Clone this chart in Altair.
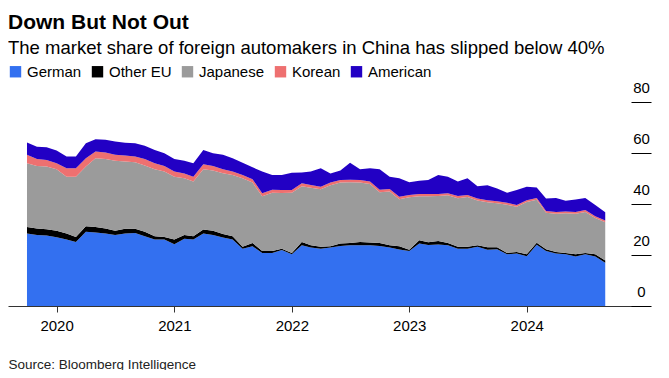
import altair as alt
import pandas as pd

# ---- data (market share, %), monthly Oct 2019 - Sep 2024 ----
start_month = "2019-10-01"
n_months = 60

german = [28.4, 27.8, 27.6, 27.0, 26.1, 25.1, 29.1, 28.8, 28.4, 27.8,
          28.4, 28.6, 27.4, 26.1, 26.1, 24.2, 26.4, 26.1, 28.4, 27.8,
          26.9, 26.1, 22.5, 23.4, 20.8, 20.8, 22.0, 20.3, 23.8, 22.9,
          22.5, 22.9, 23.5, 23.8, 23.8, 23.8, 23.5, 22.9, 22.2, 21.6,
          24.5, 23.9, 24.1, 23.8, 22.5, 22.5, 23.2, 22.1, 22.3, 20.3,
          20.6, 19.5, 24.0, 21.6, 20.6, 20.3, 19.4, 20.3, 19.4, 17.0]
other_eu = [2.6, 2.6, 2.5, 2.5, 2.3, 2.0, 2.2, 2.2, 2.0, 1.7,
            1.9, 1.7, 1.7, 1.3, 1.0, 1.9, 1.4, 1.3, 1.6, 1.7,
            1.3, 1.3, 0.7, 1.3, 0.8, 0.8, 0.5, 0.5, 1.3, 0.9,
            0.7, 0.5, 1.0, 0.9, 1.3, 1.1, 1.2, 0.9, 1.2, 0.5,
            1.3, 1.1, 1.4, 0.9, 0.7, 0.7, 0.6, 0.9, 0.7, 0.5,
            0.6, 0.8, 0.8, 0.7, 0.6, 0.5, 0.9, 0.5, 0.9, 0.8]
japanese = [25.0, 24.5, 24.6, 24.1, 22.3, 23.6, 23.4, 26.9, 27.2, 27.5,
            26.4, 26.1, 26.0, 26.2, 25.6, 24.6, 22.3, 21.4, 23.6, 23.6,
            23.9, 24.0, 26.9, 23.7, 21.4, 22.8, 21.8, 23.6, 21.9, 22.6,
            22.6, 24.0, 23.9, 23.8, 23.3, 22.9, 19.9, 21.1, 18.5, 20.5,
            17.2, 18.0, 17.6, 18.7, 19.1, 19.5, 17.6, 17.7, 17.3, 18.9,
            17.7, 20.5, 16.9, 14.3, 15.0, 15.6, 15.9, 16.1, 14.2, 15.0]
korean = [3.3, 2.7, 2.6, 2.4, 3.3, 3.3, 3.2, 2.7, 2.6, 2.3,
          2.3, 2.2, 2.5, 2.4, 2.2, 2.0, 1.9, 1.9, 2.0, 1.8,
          1.5, 1.3, 1.3, 1.3, 1.2, 1.2, 1.2, 1.1, 1.1, 1.1,
          1.0, 1.0, 1.0, 1.0, 1.0, 1.0, 1.0, 1.0, 0.9, 0.9,
          0.9, 0.9, 0.8, 0.8, 0.8, 0.8, 0.8, 0.8, 0.8, 0.8,
          0.7, 0.7, 0.7, 0.7, 0.7, 0.7, 0.7, 0.7, 0.7, 0.7]
american = [4.8, 4.9, 5.0, 5.0, 4.6, 4.6, 5.9, 4.8, 5.0, 5.2,
            5.0, 5.2, 5.2, 5.2, 5.0, 4.9, 5.0, 5.3, 5.6, 5.0,
            5.7, 5.2, 4.8, 4.7, 8.5, 5.8, 5.9, 6.8, 4.3, 5.2,
            7.2, 3.6, 3.7, 6.7, 4.2, 5.2, 8.0, 4.8, 7.3, 5.0,
            5.2, 5.5, 7.5, 6.5, 5.7, 6.6, 4.8, 5.9, 5.0, 3.9,
            5.9, 5.3, 4.1, 4.9, 5.5, 4.2, 4.9, 4.8, 4.4, 3.3]

groups = ["German", "Other EU", "Japanese", "Korean", "American"]
colors = ["#3370f0", "#000000", "#9b9b9b", "#ee7070", "#2200c4"]
year_ticks = [2020, 2021, 2022, 2023, 2024]
y_ticks = [0, 20, 40, 60, 80]

title_text = "Down But Not Out"
subtitle_text = "The market share of foreign automakers in China has slipped below 40%"
source_text = "Source: Bloomberg Intelligence"

months = pd.date_range(start_month, periods=n_months, freq="MS")
rows = []
for k, (g, vals) in enumerate(zip(groups, [german, other_eu, japanese, korean, american])):
    for m, v in zip(months, vals):
        rows.append({"month": m.strftime("%Y-%m-%d"), "group": g, "share": v, "k": k})
df = pd.DataFrame(rows)

FONT = "Liberation Sans"

chart = alt.Chart(df).mark_area(interpolate="linear", opacity=1).encode(
    x=alt.X(
        "month:T",
        scale=alt.Scale(domain=[alt.DateTime(year=2019, month=8, date=3),
                                alt.DateTime(year=2025, month=1, date=15)]),
        axis=alt.Axis(
            values=[alt.DateTime(year=y, month=1, date=1) for y in year_ticks],
            format="%Y", grid=False, labelFontSize=15, labelFont=FONT,
            labelColor="#000000", tickColor="#333333", domainColor="#333333",
            tickSize=6, labelPadding=6, labelFlush=False,
            title=source_text, titleFont=FONT, titleFontSize=13.5,
            titleFontWeight="normal", titleColor="#222222",
            titleX=0, titleY=62, titleAnchor="start", titleAlign="left",
            titleBaseline="alphabetic",
        ),
    ),
    y=alt.Y(
        "share:Q", stack="zero",
        scale=alt.Scale(domain=[0, 80], nice=False),
        axis=alt.Axis(
            orient="right", values=y_ticks, domain=False, grid=False,
            tickSize=20, tickColor="#000000", tickWidth=1, offset=-18,
            labelAlign="center", labelPadding=-10, labelBaseline="alphabetic",
            labelOffset=-10, labelFontSize=15, labelFont=FONT,
            labelColor="#000000", labelFlush=False, title=None,
        ),
    ),
    color=alt.Color(
        "group:N",
        scale=alt.Scale(domain=groups, range=colors),
        legend=alt.Legend(
            orient="none", legendX=0, legendY=-38, direction="horizontal",
            title=None, symbolType="square", symbolSize=130,
            symbolStrokeWidth=0, symbolOpacity=1, labelFontSize=15,
            labelFont=FONT, labelColor="#000000", columnPadding=8,
            labelOffset=4,
        ),
    ),
    order=alt.Order("k:Q", sort="ascending"),
).properties(
    width=641,
    height=204,
    autosize="none",
    padding={"left": 0, "top": 94, "right": 12, "bottom": 64},
    title=alt.TitleParams(
        text=title_text, subtitle=subtitle_text, anchor="start",
        font=FONT, fontSize=21, fontWeight="bold", color="#000000",
        subtitleFont=FONT, subtitleFontSize=18.5, subtitleColor="#000000",
        subtitlePadding=6, offset=7,
    ),
).configure_view(stroke=None)

chart.save("out.html", embed_options={"renderer": "svg", "actions": False})
